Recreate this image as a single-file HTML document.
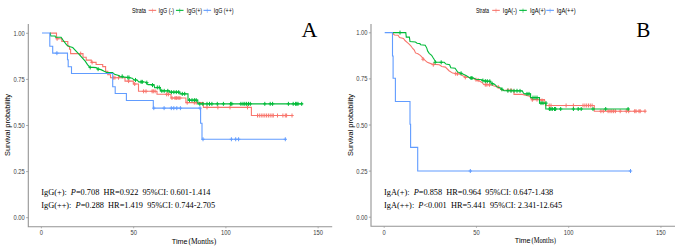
<!DOCTYPE html>
<html><head><meta charset="utf-8"><style>
html,body{margin:0;padding:0;background:#fff;width:685px;height:248px;overflow:hidden}
svg{display:block}
</style></head><body>
<svg width="685" height="248" viewBox="0 0 685 248">
<rect width="685" height="248" fill="#fff"/>
<path d="M28.3 24V227.35000000000002M27.75 226.8H332.2" stroke="#949494" stroke-width="1.1" fill="none"/>
<path d="M26.1 33.3H28.3" stroke="#949494" stroke-width="0.8"/>
<text transform="translate(24.8 35.8) scale(0.83 1)" text-anchor="end" font-size="7.0" fill="#3d3d3d" font-family='"Liberation Sans", sans-serif' >1.00</text>
<path d="M26.1 79.4H28.3" stroke="#949494" stroke-width="0.8"/>
<text transform="translate(24.8 81.9) scale(0.83 1)" text-anchor="end" font-size="7.0" fill="#3d3d3d" font-family='"Liberation Sans", sans-serif' >0.75</text>
<path d="M26.1 125.5H28.3" stroke="#949494" stroke-width="0.8"/>
<text transform="translate(24.8 128.0) scale(0.83 1)" text-anchor="end" font-size="7.0" fill="#3d3d3d" font-family='"Liberation Sans", sans-serif' >0.50</text>
<path d="M26.1 171.6H28.3" stroke="#949494" stroke-width="0.8"/>
<text transform="translate(24.8 174.1) scale(0.83 1)" text-anchor="end" font-size="7.0" fill="#3d3d3d" font-family='"Liberation Sans", sans-serif' >0.25</text>
<path d="M26.1 217.7H28.3" stroke="#949494" stroke-width="0.8"/>
<text transform="translate(24.8 220.2) scale(0.83 1)" text-anchor="end" font-size="7.0" fill="#3d3d3d" font-family='"Liberation Sans", sans-serif' >0.00</text>
<path d="M41.4 226.8V228.3" stroke="#999" stroke-width="0.8"/>
<text transform="translate(41.4 235.10000000000002) scale(0.83 1)" text-anchor="middle" font-size="7.0" fill="#3d3d3d" font-family='"Liberation Sans", sans-serif' >0</text>
<path d="M133.65 226.8V228.3" stroke="#999" stroke-width="0.8"/>
<text transform="translate(133.65 235.10000000000002) scale(0.83 1)" text-anchor="middle" font-size="7.0" fill="#3d3d3d" font-family='"Liberation Sans", sans-serif' >50</text>
<path d="M225.9 226.8V228.3" stroke="#999" stroke-width="0.8"/>
<text transform="translate(225.9 235.10000000000002) scale(0.83 1)" text-anchor="middle" font-size="7.0" fill="#3d3d3d" font-family='"Liberation Sans", sans-serif' >100</text>
<path d="M318.15 226.8V228.3" stroke="#999" stroke-width="0.8"/>
<text transform="translate(318.15 235.10000000000002) scale(0.83 1)" text-anchor="middle" font-size="7.0" fill="#3d3d3d" font-family='"Liberation Sans", sans-serif' >150</text>
<text transform="translate(10.2 125.0) rotate(-90)" text-anchor="middle" font-size="7.4" fill="#000" font-family='"Liberation Sans", sans-serif'>Survival probability</text>
<text transform="translate(171.8 243.8) scale(0.9 1)" text-anchor="start" font-size="8.0" fill="#000" font-family='"Liberation Sans", sans-serif' >Time</text>
<text x="188.5" y="243.9" text-anchor="start" font-size="7.45" fill="#000" font-family='"Liberation Serif", serif' >(Months)</text>
<text x="301.5" y="36.5" text-anchor="start" font-size="22" fill="#000" font-family='"Liberation Serif", serif' >A</text>
<text transform="translate(132 12.9) scale(0.788 1)" text-anchor="start" font-size="6.7" fill="#000" font-family='"Liberation Sans", sans-serif' >Strata</text>
<path d="M148.6 10.4h7.6" stroke="#F8766D" stroke-width="1.2" opacity="0.9"/><path d="M152.4 8.6v4.2" stroke="#F8766D" stroke-width="0.7" opacity="0.8"/>
<text transform="translate(158.6 12.9) scale(0.8 1)" text-anchor="start" font-size="6.7" fill="#000" font-family='"Liberation Sans", sans-serif' >IgG (-)</text>
<path d="M175.9 10.4h7.6" stroke="#00BA38" stroke-width="1.2" opacity="0.9"/><path d="M179.70000000000002 8.6v4.2" stroke="#00BA38" stroke-width="0.7" opacity="0.8"/>
<text transform="translate(186.8 12.9) scale(0.8 1)" text-anchor="start" font-size="6.7" fill="#000" font-family='"Liberation Sans", sans-serif' >IgG(+)</text>
<path d="M203.5 10.4h7.6" stroke="#619CFF" stroke-width="1.2" opacity="0.9"/><path d="M207.3 8.6v4.2" stroke="#619CFF" stroke-width="0.7" opacity="0.8"/>
<text transform="translate(213.7 12.9) scale(0.8 1)" text-anchor="start" font-size="6.7" fill="#000" font-family='"Liberation Sans", sans-serif' >IgG (++)</text>
<text x="41.3" y="195.4" font-size="8.3" fill="#000" font-family='"Liberation Serif", serif' xml:space="preserve" style="white-space:pre">IgG(+):  <tspan font-style="italic">P</tspan>=0.708  HR=0.922  95%CI: 0.601-1.414</text>
<text x="41.3" y="208.1" font-size="8.3" fill="#000" font-family='"Liberation Serif", serif' xml:space="preserve" style="white-space:pre">IgG(++):  <tspan font-style="italic">P</tspan>=0.288  HR=1.419  95%CI: 0.744-2.705</text>
<path d="M371.0 24V226.85000000000002M370.45 226.3H675.0" stroke="#949494" stroke-width="1.1" fill="none"/>
<path d="M368.8 32.8H371.0" stroke="#949494" stroke-width="0.8"/>
<text transform="translate(367.5 35.3) scale(0.83 1)" text-anchor="end" font-size="7.0" fill="#3d3d3d" font-family='"Liberation Sans", sans-serif' >1.00</text>
<path d="M368.8 78.9H371.0" stroke="#949494" stroke-width="0.8"/>
<text transform="translate(367.5 81.4) scale(0.83 1)" text-anchor="end" font-size="7.0" fill="#3d3d3d" font-family='"Liberation Sans", sans-serif' >0.75</text>
<path d="M368.8 125.0H371.0" stroke="#949494" stroke-width="0.8"/>
<text transform="translate(367.5 127.5) scale(0.83 1)" text-anchor="end" font-size="7.0" fill="#3d3d3d" font-family='"Liberation Sans", sans-serif' >0.50</text>
<path d="M368.8 171.1H371.0" stroke="#949494" stroke-width="0.8"/>
<text transform="translate(367.5 173.6) scale(0.83 1)" text-anchor="end" font-size="7.0" fill="#3d3d3d" font-family='"Liberation Sans", sans-serif' >0.25</text>
<path d="M368.8 217.2H371.0" stroke="#949494" stroke-width="0.8"/>
<text transform="translate(367.5 219.7) scale(0.83 1)" text-anchor="end" font-size="7.0" fill="#3d3d3d" font-family='"Liberation Sans", sans-serif' >0.00</text>
<path d="M384.2 226.3V227.8" stroke="#999" stroke-width="0.8"/>
<text transform="translate(384.2 234.60000000000002) scale(0.83 1)" text-anchor="middle" font-size="7.0" fill="#3d3d3d" font-family='"Liberation Sans", sans-serif' >0</text>
<path d="M476.45 226.3V227.8" stroke="#999" stroke-width="0.8"/>
<text transform="translate(476.45 234.60000000000002) scale(0.83 1)" text-anchor="middle" font-size="7.0" fill="#3d3d3d" font-family='"Liberation Sans", sans-serif' >50</text>
<path d="M568.7 226.3V227.8" stroke="#999" stroke-width="0.8"/>
<text transform="translate(568.7 234.60000000000002) scale(0.83 1)" text-anchor="middle" font-size="7.0" fill="#3d3d3d" font-family='"Liberation Sans", sans-serif' >100</text>
<path d="M660.95 226.3V227.8" stroke="#999" stroke-width="0.8"/>
<text transform="translate(660.95 234.60000000000002) scale(0.83 1)" text-anchor="middle" font-size="7.0" fill="#3d3d3d" font-family='"Liberation Sans", sans-serif' >150</text>
<text transform="translate(353.0 125.0) rotate(-90)" text-anchor="middle" font-size="7.4" fill="#000" font-family='"Liberation Sans", sans-serif'>Survival probability</text>
<text transform="translate(514.8 242.8) scale(0.9 1)" text-anchor="start" font-size="8.0" fill="#000" font-family='"Liberation Sans", sans-serif' >Time</text>
<text transform="translate(531.6 242.9) scale(0.87 1)" text-anchor="start" font-size="7.5" fill="#000" font-family='"Liberation Serif", serif' >(Months)</text>
<text transform="translate(636.2 36.5) scale(0.96 1)" text-anchor="start" font-size="22" fill="#000" font-family='"Liberation Serif", serif' >B</text>
<text transform="translate(475.9 12.9) scale(0.7360000000000001 1)" text-anchor="start" font-size="6.7" fill="#000" font-family='"Liberation Sans", sans-serif' >Strata</text>
<path d="M492.2 10.4h7.6" stroke="#F8766D" stroke-width="1.2" opacity="0.9"/><path d="M496.0 8.6v4.2" stroke="#F8766D" stroke-width="0.7" opacity="0.8"/>
<text transform="translate(502.8 12.9) scale(0.8480000000000001 1)" text-anchor="start" font-size="6.7" fill="#000" font-family='"Liberation Sans", sans-serif' >IgA(-)</text>
<path d="M519.2 10.4h7.6" stroke="#00BA38" stroke-width="1.2" opacity="0.9"/><path d="M523.0 8.6v4.2" stroke="#00BA38" stroke-width="0.7" opacity="0.8"/>
<text transform="translate(530 12.9) scale(0.8480000000000001 1)" text-anchor="start" font-size="6.7" fill="#000" font-family='"Liberation Sans", sans-serif' >IgA(+)</text>
<path d="M546.3 10.4h7.6" stroke="#619CFF" stroke-width="1.2" opacity="0.9"/><path d="M550.0999999999999 8.6v4.2" stroke="#619CFF" stroke-width="0.7" opacity="0.8"/>
<text transform="translate(556.7 12.9) scale(0.8480000000000001 1)" text-anchor="start" font-size="6.7" fill="#000" font-family='"Liberation Sans", sans-serif' >IgA(++)</text>
<text x="384.1" y="195.4" font-size="8.3" fill="#000" font-family='"Liberation Serif", serif' xml:space="preserve" style="white-space:pre">IgA(+):  <tspan font-style="italic">P</tspan>=0.858  HR=0.964  95%CI: 0.647-1.438</text>
<text x="384.1" y="208.1" font-size="8.3" fill="#000" font-family='"Liberation Serif", serif' xml:space="preserve" style="white-space:pre">IgA(++):  <tspan font-style="italic">P</tspan>&lt;0.001  HR=5.441  95%CI: 2.341-12.645</text>
<path d="M49.90 33.10 L56.50 33.10 L56.50 38.80 L61.80 38.80 L61.80 41.50 L67.80 41.50 L67.80 46.30 L69.50 46.30 L69.50 49.20 L70.60 49.20 L70.60 53.60 L83.00 53.60 L83.00 57.20 L86.20 57.20 L86.20 60.10 L91.30 60.10 L91.30 62.40 L96.10 62.40 L96.10 64.50 L102.70 64.50 L102.70 66.60 L105.60 66.60 L105.60 71.30 L107.80 71.30 L107.80 74.80 L110.50 74.80 L110.50 77.70 L125.00 77.70 L125.00 81.10 L133.30 81.10 L133.30 84.00 L138.50 84.00 L138.50 91.30 L157.00 91.30 L157.00 94.30 L171.00 94.30 L171.00 98.00 L185.90 98.00 L185.90 102.60 L203.40 102.60 L203.40 107.40 L251.40 107.40 L251.40 115.50 L292.60 115.50" stroke="#F8766D" stroke-width="1.1" fill="none" stroke-linejoin="miter"/>
<path d="M55.40 38.80h3.40M57.10 36.80v4.00M79.00 53.60h3.40M80.70 51.60v4.00M90.40 62.40h3.40M92.10 60.40v4.00M111.60 77.70h3.40M113.30 75.70v4.00M113.20 77.70h3.40M114.90 75.70v4.00M116.80 77.70h3.40M118.50 75.70v4.00M126.90 81.10h3.40M128.60 79.10v4.00M133.00 84.00h3.40M134.70 82.00v4.00M141.90 91.30h3.40M143.60 89.30v4.00M144.30 91.30h3.40M146.00 89.30v4.00M150.40 91.30h3.40M152.10 89.30v4.00M151.60 91.30h3.40M153.30 89.30v4.00M153.40 91.30h3.40M155.10 89.30v4.00M164.90 94.30h3.40M166.60 92.30v4.00M166.70 94.30h3.40M168.40 92.30v4.00M170.30 98.00h3.40M172.00 96.00v4.00M173.30 98.00h3.40M175.00 96.00v4.00M174.60 98.00h3.40M176.30 96.00v4.00M176.40 98.00h3.40M178.10 96.00v4.00M178.20 98.00h3.40M179.90 96.00v4.00M185.50 102.60h3.40M187.20 100.60v4.00M192.60 102.60h3.40M194.30 100.60v4.00M194.50 102.60h3.40M196.20 100.60v4.00M205.30 107.40h3.40M207.00 105.40v4.00M216.20 107.40h3.40M217.90 105.40v4.00M228.30 107.40h3.40M230.00 105.40v4.00M245.80 107.40h3.40M247.50 105.40v4.00M255.80 115.50h3.40M257.50 113.50v4.00M257.60 115.50h3.40M259.30 113.50v4.00M259.50 115.50h3.40M261.20 113.50v4.00M261.30 115.50h3.40M263.00 113.50v4.00M263.10 115.50h3.40M264.80 113.50v4.00M264.90 115.50h3.40M266.60 113.50v4.00M266.70 115.50h3.40M268.40 113.50v4.00M268.50 115.50h3.40M270.20 113.50v4.00M270.30 115.50h3.40M272.00 113.50v4.00M271.60 115.50h3.40M273.30 113.50v4.00M275.80 115.50h3.40M277.50 113.50v4.00M281.20 115.50h3.40M282.90 113.50v4.00M283.60 115.50h3.40M285.30 113.50v4.00M284.90 115.50h3.40M286.60 113.50v4.00M290.30 115.50h3.40M292.00 113.50v4.00" stroke="#F8766D" stroke-width="1.0" fill="none"/>
<path d="M49.90 32.95 L50.20 32.95 L50.80 36.05 L55.10 36.05 L55.50 37.25 L61.10 37.25 L63.00 40.15 L66.80 45.15 L69.20 46.45 L72.70 47.55 L78.00 53.15 L85.20 61.15 L87.50 64.65 L89.70 67.15 L96.10 67.65 L98.10 69.15 L101.00 69.65 L104.20 71.35 L106.50 72.35 L112.50 72.55 L114.50 74.25 L119.40 75.65 L119.80 76.65 L126.60 77.35 L132.30 78.15 L133.90 79.85 L137.10 79.95 L138.70 81.85 L145.20 81.95 L146.50 83.15 L148.00 84.65 L154.00 84.65 L154.60 87.75 L160.30 87.75 L160.30 90.85 L169.60 90.85 L169.60 92.15 L179.90 92.15 L179.90 93.85 L188.00 93.85 L188.00 100.15 L197.80 100.15 L197.80 103.85 L302.90 103.85" stroke="#00BA38" stroke-width="1.1" fill="none" stroke-linejoin="miter"/>
<path d="M88.50 67.45h3.40M90.20 65.45v4.00M96.40 69.15h3.40M98.10 67.15v4.00M120.50 76.35h3.40M122.20 74.35v4.00M126.10 77.45h3.40M127.80 75.45v4.00M127.30 77.55h3.40M129.00 75.55v4.00M133.80 79.95h3.40M135.50 77.95v4.00M139.40 81.85h3.40M141.10 79.85v4.00M140.60 81.85h3.40M142.30 79.85v4.00M145.10 82.65h3.40M146.80 80.65v4.00M150.80 85.15h3.40M152.50 83.15v4.00M155.60 87.45h3.40M157.30 85.45v4.00M157.60 87.45h3.40M159.30 85.45v4.00M160.10 90.85h3.40M161.80 88.85v4.00M162.50 90.85h3.40M164.20 88.85v4.00M166.10 90.85h3.40M167.80 88.85v4.00M169.70 92.15h3.40M171.40 90.15v4.00M172.20 92.15h3.40M173.90 90.15v4.00M174.60 92.15h3.40M176.30 90.15v4.00M177.00 92.15h3.40M178.70 90.15v4.00M180.60 93.85h3.40M182.30 91.85v4.00M183.00 93.85h3.40M184.70 91.85v4.00M187.80 100.15h3.40M189.50 98.15v4.00M190.30 100.15h3.40M192.00 98.15v4.00M192.70 100.15h3.40M194.40 98.15v4.00M194.50 100.15h3.40M196.20 98.15v4.00M198.10 103.85h3.40M199.80 101.85v4.00M201.10 103.85h3.40M202.80 101.85v4.00M205.30 103.85h3.40M207.00 101.85v4.00M207.80 103.85h3.40M209.50 101.85v4.00M210.20 103.85h3.40M211.90 101.85v4.00M215.60 103.85h3.40M217.30 101.85v4.00M221.70 103.85h3.40M223.40 101.85v4.00M228.90 103.85h3.40M230.60 101.85v4.00M230.10 103.85h3.40M231.80 101.85v4.00M239.20 103.85h3.40M240.90 101.85v4.00M241.30 103.85h3.40M243.00 101.85v4.00M243.10 103.85h3.40M244.80 101.85v4.00M244.90 103.85h3.40M246.60 101.85v4.00M246.80 103.85h3.40M248.50 101.85v4.00M248.60 103.85h3.40M250.30 101.85v4.00M263.10 103.85h3.40M264.80 101.85v4.00M268.50 103.85h3.40M270.20 101.85v4.00M270.90 103.85h3.40M272.60 101.85v4.00M286.70 103.85h3.40M288.40 101.85v4.00M291.50 103.85h3.40M293.20 101.85v4.00M293.90 103.85h3.40M295.60 101.85v4.00M295.10 103.85h3.40M296.80 101.85v4.00M296.30 103.85h3.40M298.00 101.85v4.00M300.00 103.85h3.40M301.70 101.85v4.00" stroke="#00BA38" stroke-width="1.0" fill="none"/>
<path d="M42.00 33.05 L49.80 33.05 L49.80 46.25 L52.70 46.25 L52.70 53.15 L67.50 53.15 L67.50 59.75 L68.20 59.75 L68.20 66.75 L71.50 66.75 L71.50 73.55 L112.70 73.55 L112.70 86.75 L115.20 86.75 L115.20 93.55 L126.40 93.55 L126.40 100.55 L153.30 100.55 L153.30 108.15 L200.60 108.15 L200.60 123.25 L202.00 123.25 L202.00 139.25 L285.80 139.25" stroke="#619CFF" stroke-width="1.1" fill="none" stroke-linejoin="miter"/>
<path d="M55.20 53.15h3.40M56.90 51.15v4.00M152.10 108.15h3.40M153.80 106.15v4.00M162.40 108.15h3.40M164.10 106.15v4.00M169.60 108.15h3.40M171.30 106.15v4.00M172.10 108.15h3.40M173.80 106.15v4.00M175.10 108.15h3.40M176.80 106.15v4.00M178.70 108.15h3.40M180.40 106.15v4.00M198.30 108.15h3.40M200.00 106.15v4.00M201.30 139.25h3.40M203.00 137.25v4.00M229.70 139.25h3.40M231.40 137.25v4.00M234.00 139.25h3.40M235.70 137.25v4.00M236.90 139.25h3.40M238.60 137.25v4.00M283.60 139.25h3.40M285.30 137.25v4.00" stroke="#619CFF" stroke-width="1.0" fill="none"/>
<path d="M392.60 32.60 L392.90 32.60 L393.50 34.20 L394.50 35.00 L398.10 35.20 L399.50 37.50 L403.50 38.50 L405.00 40.50 L407.40 42.60 L409.40 44.40 L411.00 46.00 L412.70 48.50 L414.30 50.10 L415.50 52.90 L417.90 53.70 L420.30 55.30 L422.40 57.50 L424.00 59.40 L427.30 62.30 L432.10 64.10 L439.30 64.70 L441.80 66.50 L445.40 67.10 L449.00 70.70 L452.60 73.10 L459.90 74.30 L464.70 76.80 L470.00 77.80 L474.80 78.90 L476.00 79.70 L479.30 80.90 L482.10 82.50 L483.70 84.50 L491.80 84.90 L493.40 85.70 L495.80 86.50 L497.80 86.90 L499.80 88.10 L500.60 89.30 L502.30 90.20 L514.00 90.20 L514.00 94.40 L522.30 94.40 L529.60 96.20 L532.00 99.60 L544.50 99.60 L545.50 105.50 L594.30 105.50 L594.30 111.20 L645.60 111.20" stroke="#F8766D" stroke-width="1.1" fill="none" stroke-linejoin="miter"/>
<path d="M421.30 59.20h3.40M423.00 57.20v4.00M431.60 64.70h3.40M433.30 62.70v4.00M454.00 73.70h3.40M455.70 71.70v4.00M455.80 73.70h3.40M457.50 71.70v4.00M463.60 77.40h3.40M465.30 75.40v4.00M474.30 79.70h3.40M476.00 77.70v4.00M476.40 80.10h3.40M478.10 78.10v4.00M483.60 84.70h3.40M485.30 82.70v4.00M485.20 84.70h3.40M486.90 82.70v4.00M487.70 84.80h3.40M489.40 82.80v4.00M496.50 87.00h3.40M498.20 85.00v4.00M506.30 90.20h3.40M508.00 88.20v4.00M509.30 90.20h3.40M511.00 88.20v4.00M530.60 99.80h3.40M532.30 97.80v4.00M535.30 99.60h3.40M537.00 97.60v4.00M540.30 100.50h3.40M542.00 98.50v4.00M547.50 105.50h3.40M549.20 103.50v4.00M549.30 105.50h3.40M551.00 103.50v4.00M564.40 105.50h3.40M566.10 103.50v4.00M571.70 105.50h3.40M573.40 103.50v4.00M581.30 105.50h3.40M583.00 103.50v4.00M583.20 105.50h3.40M584.90 103.50v4.00M585.00 105.50h3.40M586.70 103.50v4.00M586.80 105.50h3.40M588.50 103.50v4.00M588.60 105.50h3.40M590.30 103.50v4.00M590.40 105.50h3.40M592.10 103.50v4.00M599.20 111.20h3.40M600.90 109.20v4.00M601.60 111.20h3.40M603.30 109.20v4.00M606.40 111.20h3.40M608.10 109.20v4.00M608.30 111.20h3.40M610.00 109.20v4.00M610.10 111.20h3.40M611.80 109.20v4.00M611.90 111.20h3.40M613.60 109.20v4.00M613.70 111.20h3.40M615.40 109.20v4.00M618.50 111.20h3.40M620.20 109.20v4.00M624.60 111.20h3.40M626.30 109.20v4.00M627.00 111.20h3.40M628.70 109.20v4.00M633.00 111.20h3.40M634.70 109.20v4.00M634.30 111.20h3.40M636.00 109.20v4.00M637.30 111.20h3.40M639.00 109.20v4.00M638.50 111.20h3.40M640.20 109.20v4.00M643.30 111.20h3.40M645.00 109.20v4.00" stroke="#F8766D" stroke-width="1.0" fill="none"/>
<path d="M392.50 32.60 L405.80 32.60 L406.30 37.10 L409.40 37.10 L410.00 41.50 L415.40 42.00 L417.10 43.20 L419.90 43.60 L420.70 44.80 L425.20 45.20 L426.80 48.10 L427.60 50.90 L429.20 53.30 L431.60 55.30 L432.80 57.30 L434.40 59.80 L435.70 61.70 L436.00 62.30 L444.20 62.30 L446.00 64.10 L449.60 64.70 L450.80 67.70 L455.10 68.30 L457.50 71.90 L461.70 73.50 L466.00 75.60 L470.00 78.00 L473.60 78.00 L476.00 79.30 L482.10 79.70 L483.70 80.90 L490.20 81.30 L491.40 83.30 L494.20 84.10 L495.80 85.30 L497.00 86.90 L500.60 88.10 L502.30 89.30 L503.90 90.70 L522.30 90.90 L523.50 93.20 L524.70 93.90 L530.60 93.90 L530.60 97.60 L539.50 97.60 L539.50 103.10 L545.80 103.10 L545.80 109.00 L629.30 109.00" stroke="#00BA38" stroke-width="1.1" fill="none" stroke-linejoin="miter"/>
<path d="M398.30 32.60h3.40M400.00 30.60v4.00M433.40 62.30h3.40M435.10 60.30v4.00M439.50 62.30h3.40M441.20 60.30v4.00M459.40 73.30h3.40M461.10 71.30v4.00M469.30 78.00h3.40M471.00 76.00v4.00M470.30 78.00h3.40M472.00 76.00v4.00M481.20 80.50h3.40M482.90 78.50v4.00M483.60 81.10h3.40M485.30 79.10v4.00M485.60 81.20h3.40M487.30 79.20v4.00M488.10 81.30h3.40M489.80 79.30v4.00M490.50 83.70h3.40M492.20 81.70v4.00M500.20 89.30h3.40M501.90 87.30v4.00M506.20 90.70h3.40M507.90 88.70v4.00M509.30 90.80h3.40M511.00 88.80v4.00M512.30 90.80h3.40M514.00 88.80v4.00M515.30 90.80h3.40M517.00 88.80v4.00M518.30 90.90h3.40M520.00 88.90v4.00M525.30 93.90h3.40M527.00 91.90v4.00M527.30 93.90h3.40M529.00 91.90v4.00M531.30 97.60h3.40M533.00 95.60v4.00M533.30 97.60h3.40M535.00 95.60v4.00M535.30 97.60h3.40M537.00 95.60v4.00M539.30 103.10h3.40M541.00 101.10v4.00M541.30 103.10h3.40M543.00 101.10v4.00M544.30 103.10h3.40M546.00 101.10v4.00M547.70 109.00h3.40M549.40 107.00v4.00M549.20 109.00h3.40M550.90 107.00v4.00M550.60 109.00h3.40M552.30 107.00v4.00M552.80 109.00h3.40M554.50 107.00v4.00M553.90 109.00h3.40M555.60 107.00v4.00M559.00 109.00h3.40M560.70 107.00v4.00M571.70 109.00h3.40M573.40 107.00v4.00M576.50 109.00h3.40M578.20 107.00v4.00M579.50 109.00h3.40M581.20 107.00v4.00M591.30 109.00h3.40M593.00 107.00v4.00M604.00 109.00h3.40M605.70 107.00v4.00M626.40 109.00h3.40M628.10 107.00v4.00" stroke="#00BA38" stroke-width="1.0" fill="none"/>
<path d="M384.70 32.60 L392.50 32.60 L392.50 56.00 L393.10 56.00 L393.10 78.20 L395.40 78.20 L395.40 101.50 L410.00 101.50 L410.00 124.20 L410.60 124.20 L410.60 147.40 L417.70 147.40 L417.70 171.00 L631.00 171.00" stroke="#619CFF" stroke-width="1.1" fill="none" stroke-linejoin="miter"/>
<path d="M468.60 171.00h3.40M470.30 169.00v4.00M628.80 171.00h3.40M630.50 169.00v4.00" stroke="#619CFF" stroke-width="1.0" fill="none"/>
</svg>
</body></html>
